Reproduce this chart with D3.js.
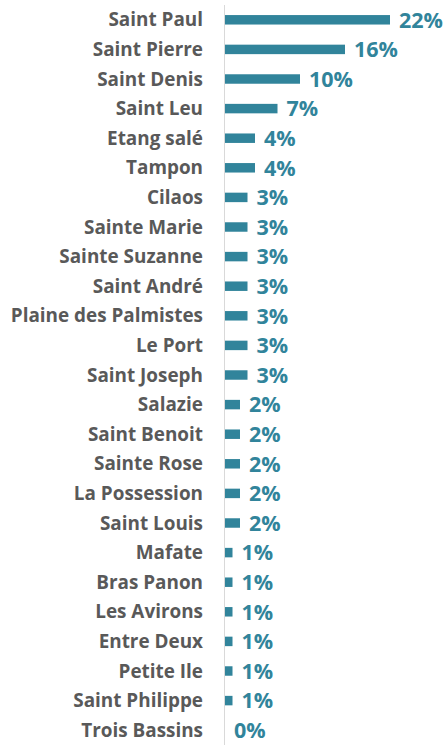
<!DOCTYPE html>
<html>
<head>
<meta charset="utf-8">
<script src="https://cdn.jsdelivr.net/npm/d3@7"></script>
<style>
  body { margin: 0; background: #fff; }
</style>
</head>
<body>
<div id="chart"></div>
<script>
// communes and their share (%)
const communes = ["Saint Paul", "Saint Pierre", "Saint Denis", "Saint Leu", "Etang salé", "Tampon",
  "Cilaos", "Sainte Marie", "Sainte Suzanne", "Saint André", "Plaine des Palmistes", "Le Port",
  "Saint Joseph", "Salazie", "Saint Benoit", "Sainte Rose", "La Possession", "Saint Louis",
  "Mafate", "Bras Panon", "Les Avirons", "Entre Deux", "Petite Ile", "Saint Philippe", "Trois Bassins"];
const shares = [22, 16, 10, 7, 4, 4, 3, 3, 3, 3, 3, 3, 3, 2, 2, 2, 2, 2, 1, 1, 1, 1, 1, 1, 0];

const margin = {top: 5, right: 0, bottom: 0, left: 224},
    width = 446 - margin.left - margin.right,
    height = 745 - margin.top - margin.bottom;

const svg = d3.select("#chart")
  .append("svg")
    .attr("width", 446)
    .attr("height", 745)
  .append("g")
    .attr("transform", `translate(${margin.left}, ${margin.top})`);

const data = communes.map((c, i) => ({name: c, value: shares[i]}));

const y = d3.scaleBand()
  .domain(communes)
  .range([0, height])
  .paddingInner(0.68)
  .paddingOuter(0.34);

const x = d3.scaleLinear()
  .domain([0, 22])
  .range([1, 166]);

// category labels
svg.append("g")
  .selectAll("text")
  .data(data)
  .enter()
  .append("text")
    .attr("x", -21)
    .attr("y", d => y(d.name) + y.bandwidth() / 2)
    .attr("dy", "0.35em")
    .attr("text-anchor", "end")
    .style("font-family", "'Open Sans', sans-serif")
    .style("font-weight", "bold")
    .style("font-size", "18.9px")
    .style("fill", "#595959")
    .text(d => d.name);

// bars
svg.append("g")
  .selectAll("rect")
  .data(data)
  .enter()
  .append("rect")
    .attr("x", x(0))
    .attr("y", d => y(d.name))
    .attr("width", d => x(d.value) - x(0))
    .attr("height", y.bandwidth())
    .attr("fill", "#31849B");

// value labels
svg.append("g")
  .selectAll("text")
  .data(data)
  .enter()
  .append("text")
    .attr("x", d => x(d.value) + 9)
    .attr("y", d => y(d.name) + y.bandwidth() / 2)
    .attr("dy", "0.36em")
    .style("font-family", "'Open Sans', sans-serif")
    .style("font-weight", "bold")
    .style("font-size", "21.5px")
    .style("fill", "#31849B")
    .text(d => d.value + "%");

// vertical axis line
svg.append("line")
  .attr("x1", 0.5).attr("x2", 0.5)
  .attr("y1", 0).attr("y2", height)
  .attr("stroke", "#d9d9d9")
  .attr("stroke-width", 1);
</script>
</body>
</html>
